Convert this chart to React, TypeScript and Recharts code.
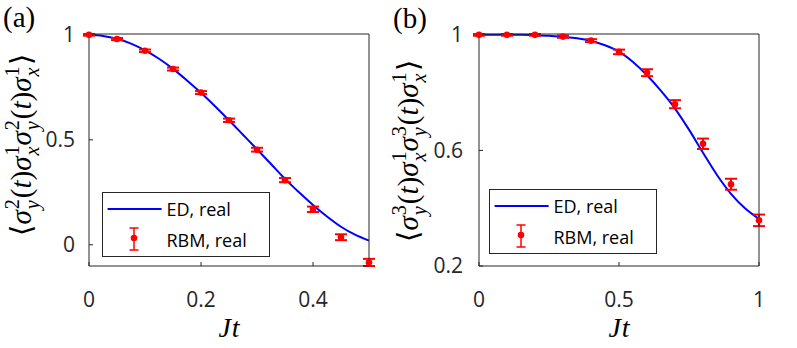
import React from 'react';
import { ComposedChart, Line, Scatter, ErrorBar, XAxis, YAxis, Legend } from 'recharts';

// ---------- data: panel (a) ----------
const rbmXA = [0, 0.05, 0.1, 0.15, 0.2, 0.25, 0.3, 0.35, 0.4, 0.45, 0.5];
const rbmYA = [1, 0.98, 0.924, 0.837, 0.725, 0.593, 0.453, 0.308, 0.169, 0.036, -0.084];
const rbmErrA = [0.004, 0.005, 0.006, 0.007, 0.007, 0.008, 0.009, 0.01, 0.013, 0.014, 0.017];
const edXA = [0, 0.025, 0.05, 0.075, 0.1, 0.125, 0.15, 0.175, 0.2, 0.225, 0.25, 0.275, 0.3, 0.325, 0.35, 0.375, 0.4, 0.425, 0.45, 0.475, 0.5];
const edYA = [1, 0.995, 0.981, 0.958, 0.926, 0.886, 0.838, 0.783, 0.724, 0.66, 0.593, 0.524, 0.455, 0.385, 0.314, 0.25, 0.19, 0.135, 0.086, 0.048, 0.02];
const xTicksA = [0, 0.2, 0.4];
const yTicksA = [0, 0.5, 1];

// ---------- data: panel (b) ----------
const rbmXB = [0, 0.1, 0.2, 0.3, 0.4, 0.5, 0.6, 0.7, 0.8, 0.9, 1];
const rbmYB = [1, 1, 1, 0.994, 0.98, 0.941, 0.869, 0.76, 0.623, 0.483, 0.358];
const rbmErrB = [0.003, 0.003, 0.003, 0.004, 0.005, 0.008, 0.012, 0.014, 0.018, 0.019, 0.02];
const edXB = [0, 0.05, 0.1, 0.15, 0.2, 0.25, 0.3, 0.35, 0.4, 0.45, 0.5, 0.55, 0.6, 0.65, 0.7, 0.75, 0.8, 0.85, 0.9, 0.95, 1];
const edYB = [1, 1, 1, 1, 0.999, 0.997, 0.993, 0.988, 0.979, 0.964, 0.942, 0.906, 0.86, 0.806, 0.745, 0.672, 0.592, 0.515, 0.45, 0.4, 0.363];
const xTicksB = [0, 0.5, 1];
const yTicksB = [0.2, 0.6, 1];

const seriesNames = ['ED, real', 'RBM, real'];
const panelLetters = ['(a)', '(b)'];
const superIdx = ['2', '3'];
const xLabel = ['J', 't'];

const BLUE = '#0000ff';
const RED = '#ff0000';
const AX = '#262626';
const TICK_FONT = "'Open Sans', sans-serif";
const SERIF = 'Liberation Serif';

const edA = edXA.map((x, i) => ({ x, y: edYA[i] }));
const rbmA = rbmXA.map((x, i) => ({ x, y: rbmYA[i], err: rbmErrA[i] }));
const edB = edXB.map((x, i) => ({ x, y: edYB[i] }));
const rbmB = rbmXB.map((x, i) => ({ x, y: rbmYB[i], err: rbmErrB[i] }));

const Dot = (p: any) => <circle cx={p.cx} cy={p.cy} r={3.3} fill={RED} />;
const Empty = () => <g />;

function CorrLabel({ cx, cy, k, fs }: { cx: number; cy: number; k: string; fs: number }) {
  const s = fs * 0.7;
  const up = fs * 0.42;
  const down = fs * 0.27;
  const back = -(s * 0.5);
  const it = { fontStyle: 'italic' as const };
  const nm = { fontStyle: 'normal' as const };
  const group = (sup: string, sub: string, first: boolean, key: string) => [
    <tspan key={key + 'a'} {...it} dy={first ? 0 : -down} dx={first ? 0 : 1}>σ</tspan>,
    <tspan key={key + 'b'} {...nm} fontSize={s} dy={-up} dx={1}>{sup}</tspan>,
    <tspan key={key + 'c'} {...it} fontSize={s} dx={back} dy={up + down}>{sub}</tspan>,
  ];
  return (
    <text
      x={cx}
      y={cy}
      transform={`rotate(-90, ${cx}, ${cy})`}
      textAnchor="middle"
      style={{ fontFamily: SERIF, fontSize: fs }}
      fill="#000"
    >
      <tspan {...nm}>⟨</tspan>
      {group(k, 'y', true, 'g1')}
      <tspan {...nm} dy={-down} dx={2}>(</tspan>
      <tspan {...it}>t</tspan>
      <tspan {...nm}>)</tspan>
      {group('1', 'x', true, 'g2')}
      {group(k, 'y', false, 'g3')}
      <tspan {...nm} dy={-down} dx={2}>(</tspan>
      <tspan {...it}>t</tspan>
      <tspan {...nm}>)</tspan>
      {group('1', 'x', true, 'g4')}
      <tspan {...nm} dy={-down} dx={2}>⟩</tspan>
    </text>
  );
}

function LegendBox() {
  return (
    <svg width={170} height={66} style={{ display: 'block' }}>
      <rect x={0.5} y={0.5} width={167} height={64} fill="#fff" stroke={AX} strokeWidth={1} />
      <line x1={5.6} x2={59.6} y1={17} y2={17} stroke={BLUE} strokeWidth={2} />
      <text x={64.5} y={23.5} fontFamily={TICK_FONT} fontSize={18} fill="#000">{seriesNames[0]}</text>
      <line x1={32} x2={32} y1={36} y2={58} stroke={RED} strokeWidth={1.5} />
      <line x1={27.5} x2={36.5} y1={36} y2={36} stroke={RED} strokeWidth={1.5} />
      <line x1={27.5} x2={36.5} y1={58} y2={58} stroke={RED} strokeWidth={1.5} />
      <circle cx={32} cy={46} r={3.3} fill={RED} />
      <text x={64.5} y={54.5} fontFamily={TICK_FONT} fontSize={18} fill="#000">{seriesNames[1]}</text>
    </svg>
  );
}

type PanelProps = {
  width: number;
  leftW: number;
  rightW: number;
  xDomain: [number, number];
  yDomain: [number, number];
  xTicks: number[];
  yTicks: number[];
  ed: { x: number; y: number }[];
  rbm: { x: number; y: number; err: number }[];
  k: string;
  labelX: number;
  labelDy: number;
  legendLeft: number;
  legendTop: number;
  yTickMargin: number;
};

function Panel(p: PanelProps) {
  const tickStyle = { fontSize: 21, fill: AX, fontFamily: TICK_FONT };
  return (
    <ComposedChart width={p.width} height={348} margin={{ top: 0, right: 0, bottom: 0, left: 0 }}>
      <XAxis
        xAxisId="top"
        orientation="top"
        type="number"
        domain={p.xDomain}
        ticks={p.xTicks}
        height={34}
        tickSize={-4}
        tick={Empty}
        axisLine={{ stroke: AX }}
        tickLine={{ stroke: AX }}
      />
      <YAxis
        yAxisId="right"
        orientation="right"
        type="number"
        domain={p.yDomain}
        ticks={p.yTicks}
        width={p.rightW}
        tickSize={-4}
        tick={Empty}
        axisLine={{ stroke: AX }}
        tickLine={{ stroke: AX }}
      />
      <XAxis
        dataKey="x"
        type="number"
        domain={p.xDomain}
        ticks={p.xTicks}
        height={82}
        tickSize={-4}
        tickMargin={30}
        tick={tickStyle}
        axisLine={{ stroke: AX }}
        tickLine={{ stroke: AX }}
        label={(lp: any) => {
          const vb = lp.viewBox;
          return (
            <text
              x={vb.x + vb.width / 2}
              y={vb.y + 70.5}
              textAnchor="middle"
              style={{ fontFamily: SERIF, fontStyle: 'italic', fontSize: 28 }}
              fill="#000"
            >
              {xLabel[0]}
              <tspan dx={1}>{xLabel[1]}</tspan>
            </text>
          );
        }}
      />
      <YAxis
        type="number"
        domain={p.yDomain}
        ticks={p.yTicks}
        width={p.leftW}
        tickSize={-4}
        tickMargin={p.yTickMargin}
        tick={tickStyle}
        axisLine={{ stroke: AX }}
        tickLine={{ stroke: AX }}
        label={(lp: any) => {
          const vb = lp.viewBox;
          return <CorrLabel cx={p.labelX} cy={vb.y + vb.height / 2 + p.labelDy} k={p.k} fs={29} />;
        }}
      />
      <Legend
        layout="vertical"
        align="center"
        verticalAlign="middle"
        content={() => <LegendBox />}
        wrapperStyle={{ left: p.legendLeft, top: p.legendTop, width: 170, height: 66 }}
      />
      <Line
        data={p.ed}
        dataKey="y"
        name={seriesNames[0]}
        type="monotone"
        stroke={BLUE}
        strokeWidth={2}
        dot={false}
        isAnimationActive={false}
      />
      <Scatter data={p.rbm} dataKey="y" name={seriesNames[1]} shape={Dot} isAnimationActive={false}>
        <ErrorBar dataKey="err" direction="y" width={6} stroke={RED} strokeWidth={2} isAnimationActive={false} />
      </Scatter>
    </ComposedChart>
  );
}

export default function App() {
  return (
    <div style={{ position: 'absolute', left: 0, top: 0, width: 797, height: 348, background: '#fff', overflow: 'hidden' }}>
      <div style={{ position: 'absolute', left: 0, top: 0 }}>
        <Panel
          width={385}
          leftW={89}
          rightW={16}
          xDomain={[0, 0.5]}
          yDomain={[-0.1, 1]}
          xTicks={xTicksA}
          yTicks={yTicksA}
          ed={edA}
          rbm={rbmA}
          k={superIdx[0]}
          labelX={31}
          labelDy={-5}
          legendLeft={101.7}
          legendTop={192}
          yTickMargin={18}
        />
      </div>
      <div style={{ position: 'absolute', left: 385, top: 0 }}>
        <Panel
          width={412}
          leftW={94}
          rightW={38}
          xDomain={[0, 1]}
          yDomain={[0.2, 1]}
          xTicks={xTicksB}
          yTicks={yTicksB}
          ed={edB}
          rbm={rbmB}
          k={superIdx[1]}
          labelX={33}
          labelDy={1}
          legendLeft={104.3}
          legendTop={189.3}
          yTickMargin={20}
        />
      </div>
      <svg width={797} height={40} style={{ position: 'absolute', left: 0, top: 0, pointerEvents: 'none' }}>
        <text x={3} y={27} style={{ fontFamily: SERIF, fontSize: 29 }} fill="#000">{panelLetters[0]}</text>
        <text x={393} y={28} style={{ fontFamily: SERIF, fontSize: 29 }} fill="#000">{panelLetters[1]}</text>
      </svg>
    </div>
  );
}
